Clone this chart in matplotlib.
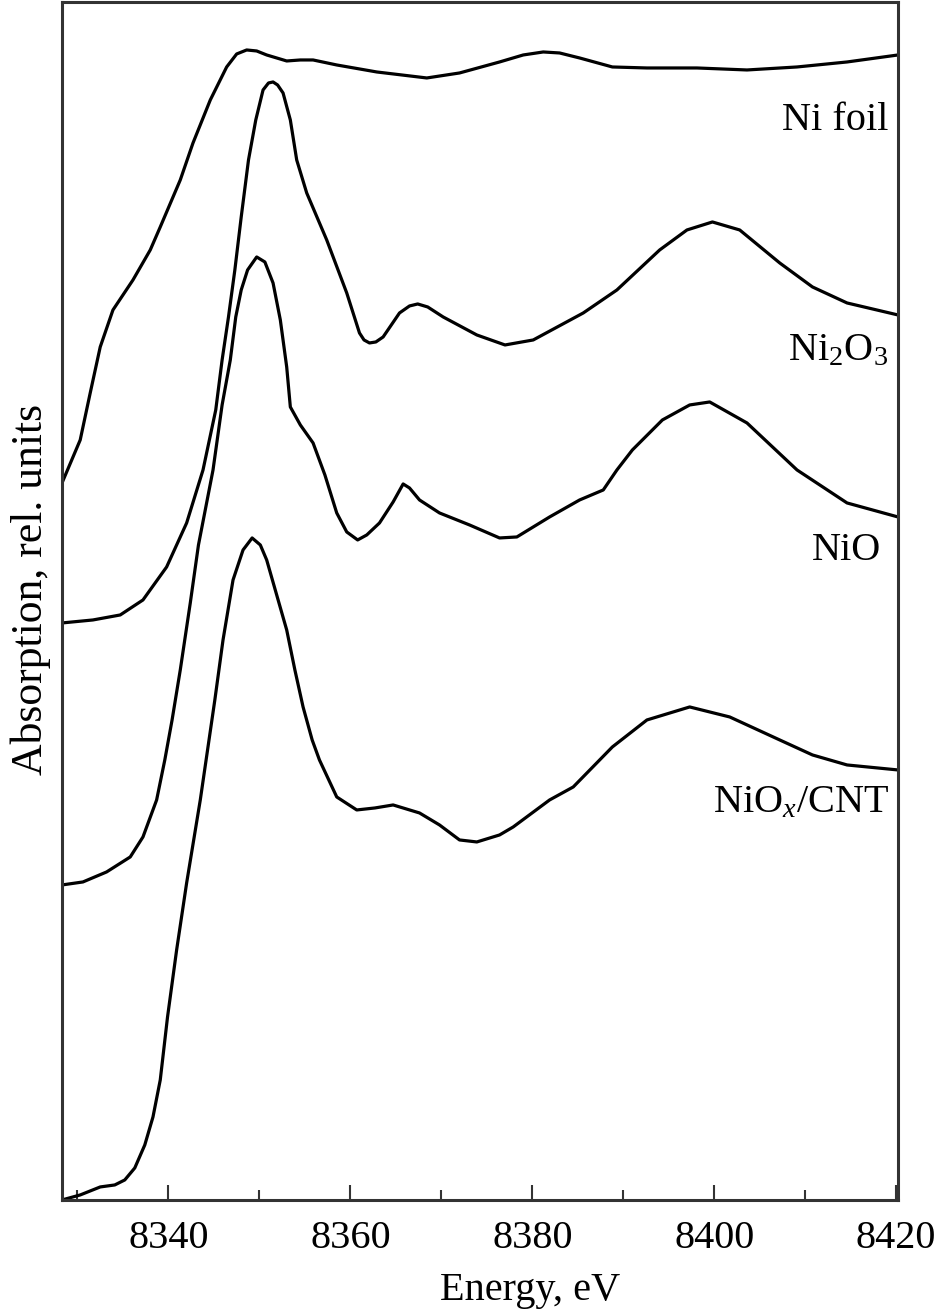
import matplotlib
matplotlib.use("Agg")
import matplotlib.pyplot as plt
from matplotlib.ticker import MultipleLocator

plt.rcParams['font.family'] = ['Liberation Serif', 'DejaVu Serif']
plt.rcParams['mathtext.fontset'] = 'custom'
plt.rcParams['mathtext.rm'] = 'Liberation Serif'
plt.rcParams['mathtext.it'] = 'Liberation Serif:italic'

# Ni foil
e_foil = [8328.3, 8330.3, 8331.4, 8332.5, 8333.9, 8336.1, 8338.0, 8339.1, 8341.3, 8342.7,
          8344.6, 8346.4, 8347.5, 8348.6, 8349.7, 8350.8, 8353.0, 8354.5, 8355.9, 8358.5,
          8362.9, 8368.4, 8372.0, 8376.4, 8379.0, 8381.2, 8383.0, 8385.2, 8388.8, 8392.6,
          8398.1, 8403.6, 8409.1, 8414.6, 8420.2]
a_foil = [7.17, 7.60, 8.07, 8.53, 8.90, 9.20, 9.50, 9.73, 10.20, 10.57,
          11.00, 11.33, 11.46, 11.50, 11.49, 11.45, 11.39, 11.40, 11.40, 11.35,
          11.28, 11.22, 11.27, 11.38, 11.45, 11.48, 11.47, 11.42, 11.33, 11.32,
          11.32, 11.30, 11.33, 11.38, 11.45]

# Ni2O3
e_ni2o3 = [8328.3, 8331.7, 8334.7, 8337.2, 8339.8, 8342.0, 8343.8, 8345.2, 8345.9, 8346.6,
           8347.3, 8348.0, 8348.8, 8349.6, 8350.4, 8351.0, 8351.5, 8352.0, 8352.6, 8353.4,
           8354.1, 8355.2, 8357.4, 8359.6, 8361.0, 8361.5, 8362.1, 8362.8, 8363.6, 8365.4,
           8366.5, 8367.4, 8368.5, 8370.2, 8373.9, 8377.0, 8380.1, 8385.6, 8389.3, 8394.0,
           8397.0, 8399.8, 8402.8, 8407.2, 8410.8, 8414.6, 8420.2]
a_ni2o3 = [5.77, 5.80, 5.85, 6.00, 6.33, 6.77, 7.30, 7.90, 8.40, 8.83,
           9.30, 9.83, 10.40, 10.80, 11.10, 11.17, 11.18, 11.15, 11.07, 10.80,
           10.40, 10.07, 9.60, 9.07, 8.67, 8.60, 8.57, 8.58, 8.63, 8.87,
           8.94, 8.96, 8.93, 8.83, 8.65, 8.55, 8.60, 8.87, 9.10, 9.50,
           9.70, 9.78, 9.70, 9.37, 9.13, 8.97, 8.85]

# NiO
e_nio = [8328.3, 8330.6, 8333.2, 8335.8, 8337.2, 8338.7, 8339.6, 8340.4, 8341.3, 8342.4,
         8343.3, 8344.9, 8345.9, 8346.8, 8347.4, 8348.0, 8348.7, 8349.7, 8350.6, 8351.5,
         8352.3, 8353.0, 8353.4, 8354.5, 8355.9, 8357.2, 8358.5, 8359.6, 8360.8, 8361.8,
         8363.2, 8364.7, 8365.8, 8366.5, 8367.6, 8369.8, 8373.1, 8376.4, 8378.3, 8381.9,
         8385.2, 8387.8, 8389.3, 8391.0, 8394.3, 8397.3, 8399.5, 8403.6, 8409.1, 8414.6,
         8420.2]
a_nio = [3.15, 3.18, 3.28, 3.43, 3.63, 4.00, 4.40, 4.80, 5.30, 5.97,
         6.55, 7.30, 7.95, 8.40, 8.83, 9.10, 9.30, 9.43, 9.38, 9.17,
         8.80, 8.33, 7.93, 7.75, 7.57, 7.25, 6.87, 6.68, 6.60, 6.65,
         6.77, 6.98, 7.16, 7.12, 7.00, 6.87, 6.75, 6.62, 6.63, 6.83,
         7.00, 7.10, 7.30, 7.50, 7.80, 7.95, 7.98, 7.77, 7.30, 6.97,
         6.83]

# NiOx/CNT
e_cnt = [8328.3, 8330.3, 8332.5, 8334.1, 8335.2, 8336.3, 8337.4, 8338.3, 8339.1, 8339.9,
         8340.9, 8342.0, 8343.5, 8344.3, 8345.1, 8346.0, 8347.1, 8348.2, 8349.2, 8350.1,
         8350.8, 8351.9, 8353.0, 8353.9, 8354.8, 8355.8, 8356.6, 8358.5, 8360.7, 8362.7,
         8364.7, 8367.6, 8369.8, 8372.0, 8373.9, 8376.4, 8377.9, 8381.9, 8384.5, 8388.8,
         8392.6, 8397.3, 8401.7, 8407.2, 8410.8, 8414.6, 8420.2]
a_cnt = [0.00, 0.05, 0.13, 0.15, 0.20, 0.32, 0.55, 0.83, 1.20, 1.83,
         2.50, 3.17, 4.00, 4.50, 5.00, 5.60, 6.20, 6.50, 6.62, 6.55,
         6.40, 6.05, 5.70, 5.30, 4.93, 4.60, 4.40, 4.03, 3.90, 3.92,
         3.95, 3.87, 3.75, 3.60, 3.58, 3.65, 3.73, 4.00, 4.13, 4.53,
         4.80, 4.93, 4.83, 4.60, 4.45, 4.35, 4.30]

fig = plt.figure(figsize=(9.41, 13.13), dpi=100)
ax = fig.add_axes([0.0659, 0.0861, 0.8884, 0.9124])

for e, a in [(e_foil, a_foil), (e_ni2o3, a_ni2o3), (e_nio, a_nio), (e_cnt, a_cnt)]:
    ax.plot(e, a, color='black', lw=2.3, solid_joinstyle='round')

ax.set_xlim(8328.3, 8420.2)
ax.set_ylim(0, 11.98)

# подписи кривых
ax.text(0.988, 0.893, 'Ni foil', transform=ax.transAxes, ha='right', va='baseline', fontsize=29)
ax.text(0.988, 0.701, 'Ni$_2$O$_3$', transform=ax.transAxes, ha='right', va='baseline', fontsize=29)
ax.text(0.980, 0.534, 'NiO', transform=ax.transAxes, ha='right', va='baseline', fontsize=29)
ax.text(0.989, 0.324, 'NiO$_x$/CNT', transform=ax.transAxes, ha='right', va='baseline', fontsize=29)

ax.xaxis.set_major_locator(MultipleLocator(20))
ax.xaxis.set_minor_locator(MultipleLocator(10))
ax.set_yticks([])
ax.tick_params(axis='x', which='major', direction='in', length=11, width=1.5,
               color='#333333', labelsize=29, pad=14.5)
ax.tick_params(axis='x', which='minor', direction='in', length=7, width=1.5, color='#333333')
for s in ax.spines.values():
    s.set_linewidth(2.2)
    s.set_color('#333333')

ax.set_xlabel('Energy, eV', fontsize=29)
ax.xaxis.set_label_coords(0.56, -0.06)
ax.set_ylabel('Absorption, rel. units', fontsize=31.5)
ax.yaxis.set_label_coords(-0.013, 0.51)

fig.savefig('out.png', dpi=100)
